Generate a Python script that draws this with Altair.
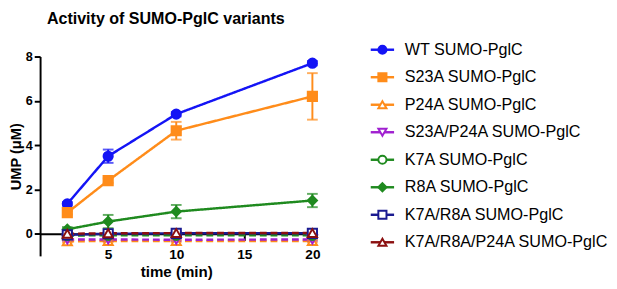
import altair as alt
import pandas as pd

FONT = "Liberation Sans"

times = [2, 5, 10, 20]
series = [
    "WT SUMO-PglC",
    "S23A SUMO-PglC",
    "P24A SUMO-PglC",
    "S23A/P24A SUMO-PglC",
    "K7A SUMO-PglC",
    "R8A SUMO-PglC",
    "K7A/R8A SUMO-PglC",
    "K7A/R8A/P24A SUMO-PglC",
]
wt_mean = [1.35, 3.5, 5.4, 7.7]
wt_err = [0.08, 0.3, 0.1, 0.1]
s23a_mean = [0.95, 2.4, 4.65, 6.2]
s23a_err = [0.08, 0.1, 0.4, 1.05]
p24a_mean = [-0.34, -0.33, -0.33, -0.33]
p24a_err = [0.05, 0.05, 0.05, 0.05]
s23ap24a_mean = [-0.26, -0.26, -0.27, -0.26]
s23ap24a_err = [0.05, 0.05, 0.05, 0.05]
k7a_mean = [-0.08, -0.07, -0.07, -0.07]
k7a_err = [0.04, 0.04, 0.04, 0.04]
r8a_mean = [0.2, 0.55, 1.0, 1.5]
r8a_err = [0.1, 0.3, 0.3, 0.3]
k7ar8a_mean = [-0.05, 0.0, 0.02, 0.02]
k7ar8a_err = [0.04, 0.04, 0.04, 0.04]
k7ar8ap24a_mean = [0.0, 0.02, 0.03, 0.03]
k7ar8ap24a_err = [0.04, 0.04, 0.04, 0.04]

all_means = [wt_mean, s23a_mean, p24a_mean, s23ap24a_mean, k7a_mean, r8a_mean, k7ar8a_mean, k7ar8ap24a_mean]
all_errs = [wt_err, s23a_err, p24a_err, s23ap24a_err, k7a_err, r8a_err, k7ar8a_err, k7ar8ap24a_err]

colors = ["#1414f5", "#ff8c1a", "#ff8c1a", "#a020d0", "#1f8a1f", "#1f8a1f", "#1a1a90", "#8b1010"]
fills = ["#1414f5", "#ff8c1a", "#ffffff", "#ffffff", "#ffffff", "#1f8a1f", "#ffffff", "#ffffff"]
shapes = ["circle", "square", "triangle-up", "triangle-down", "circle", "diamond", "square", "triangle-up"]
dashes = [[1, 0], [1, 0], [7, 4], [7, 4], [7, 4], [1, 0], [1, 0], [7, 4]]

rows = []
for name, m, e in zip(series, all_means, all_errs):
    for t, v, er in zip(times, m, e):
        rows.append({"name": name, "time": t, "value": v, "lo": v - er, "hi": v + er})
df = pd.DataFrame(rows)

caps = pd.concat([
    df[["name", "time", "lo"]].rename(columns={"lo": "cap"}),
    df[["name", "time", "hi"]].rename(columns={"hi": "cap"}),
])

color_scale = alt.Scale(domain=series, range=colors)
fill_scale = alt.Scale(domain=series, range=fills)
shape_scale = alt.Scale(domain=series, range=shapes)
dash_scale = alt.Scale(domain=series, range=dashes)

x_enc = alt.X(
    "time:Q",
    scale=alt.Scale(domain=[0, 20], nice=False, padding=0, zero=False),
    axis=alt.Axis(values=[5, 10, 15, 20], offset=-22.8, tickSize=7, labelPadding=7, labelFlush=False,
                  labelFontSize=14, title="time (min)", titlePadding=4, titleFontSize=15.5),
)
y_scale = alt.Scale(domain=[-1, 8], nice=False, padding=0)
y_axis = alt.Axis(values=[0, 2, 4, 6, 8], tickSize=6, labelPadding=2, labelFontSize=13, labelFlush=False,
                  title="UMP (μM)", titlePadding=2, titleFontSize=15)

lines = alt.Chart(df).mark_line(strokeWidth=2.5).encode(
    x=x_enc,
    y=alt.Y("value:Q", scale=y_scale, axis=y_axis),
    color=alt.Color("name:N", scale=color_scale, legend=None),
    strokeDash=alt.StrokeDash("name:N", scale=dash_scale, legend=None),
    order=alt.Order("time:Q"),
)

bars = alt.Chart(df).mark_rule(strokeWidth=2).encode(
    x=x_enc,
    y=alt.Y("lo:Q", scale=y_scale, axis=y_axis),
    y2="hi:Q",
    color=alt.Color("name:N", scale=color_scale, legend=None),
)

cap_marks = alt.Chart(caps).mark_tick(orient="horizontal", size=11, thickness=2).encode(
    x=x_enc,
    y=alt.Y("cap:Q", scale=y_scale, axis=y_axis),
    color=alt.Color("name:N", scale=color_scale, legend=None),
)

points = alt.Chart(df).mark_point(size=90, strokeWidth=2, opacity=1, fillOpacity=1).encode(
    x=x_enc,
    y=alt.Y("value:Q", scale=y_scale, axis=y_axis),
    stroke=alt.Stroke("name:N", scale=color_scale, legend=None),
    fill=alt.Fill("name:N", scale=fill_scale, legend=None),
    shape=alt.Shape("name:N", scale=shape_scale, legend=None),
)

plot = alt.layer(lines, bars, cap_marks, points).properties(
    width=280,
    height=205,
    title=alt.TitleParams(
        "Activity of SUMO-PglC variants", anchor="start", frame="group", dx=7, offset=23.5,
        fontSize=16.5, font=FONT, fontWeight="bold", color="black",
    ),
)

leg_df = pd.DataFrame({"name": series})
leg_y = alt.Y("name:N", scale=alt.Scale(type="point", domain=series, range=[-7, 191], padding=0), axis=None)

leg_rule = alt.Chart(leg_df).mark_rule(strokeWidth=2.5).encode(
    x=alt.value(51), x2=alt.value(75), y=leg_y,
    color=alt.Color("name:N", scale=color_scale, legend=None),
)
leg_pt = alt.Chart(leg_df).mark_point(size=70, strokeWidth=2, opacity=1, fillOpacity=1).encode(
    x=alt.value(63), y=leg_y,
    stroke=alt.Stroke("name:N", scale=color_scale, legend=None),
    fill=alt.Fill("name:N", scale=fill_scale, legend=None),
    shape=alt.Shape("name:N", scale=shape_scale, legend=None),
)
leg_txt = alt.Chart(leg_df).mark_text(align="left", baseline="middle", fontSize=16.6, font=FONT, color="black").encode(
    x=alt.value(86), y=leg_y, text="name:N",
)
legend = alt.layer(leg_rule, leg_pt, leg_txt).properties(width=200, height=205)

chart = alt.hconcat(plot, legend, spacing=0).properties(padding=0).configure_view(
    stroke=None
).configure_axis(
    domainColor="black", domainWidth=2, tickColor="black", tickWidth=2, grid=False,
    labelFont=FONT, labelFontWeight="bold", labelColor="black",
    titleFont=FONT, titleFontWeight="bold", titleColor="black",
)

chart.save("out.html", embed_options={"renderer": "svg", "actions": False})
